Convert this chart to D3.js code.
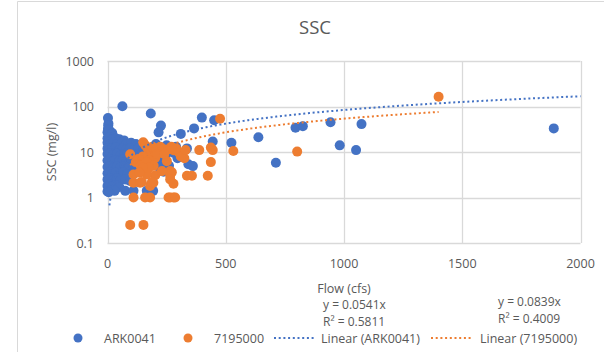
<!DOCTYPE html>
<html>
<head>
<meta charset="utf-8">
<script src="https://cdn.jsdelivr.net/npm/d3@7/dist/d3.min.js"></script>
<style>
  html, body { margin: 0; padding: 0; background: #fff; }
  svg { display: block; font-family: "Open Sans", "Noto Sans", sans-serif; }
</style>
</head>
<body>
<svg id="chart" width="604" height="352"></svg>
<script>
// Station ARK0041: [flow (cfs), SSC (mg/l)]
const ark0041 = [
  [2,56],[4,42],[3,38],[2,32],
  [0,27],[8,30],[20,26],
  [0,20],[8,21],[20,19],[35,20],[50,19],[70,18],
  [0,16],[12,15],[25,16],[40,15],[60,16],[80,15],[100,16],[120,15],[140,14],
  [0,12],[8,11],[20,12],[35,12.5],[50,11],[65,12],[80,11.5],[95,12],[110,11],[130,12],[150,11],[165,12.5],
  [0,9],[12,9.5],[25,8.8],[40,9.2],[55,8.5],[70,9],[85,9.5],[100,8.7],[120,9],[140,8.5],[160,9],
  [0,6.5],[10,6.8],[22,6.2],[35,6.6],[50,6.3],[65,6.8],[80,6.2],[100,6.5],[120,6.8],[140,6.2],
  [0,4.7],[10,4.9],[25,4.5],[40,4.8],[55,4.6],[70,4.9],[90,4.5],[110,4.7],[130,4.4],
  [0,3.4],[8,3.6],[20,3.3],[35,3.5],[50,3.2],[65,3.6],[85,3.3],[105,3.4],
  [0,2.5],[10,2.6],[25,2.4],[40,2.6],[55,2.4],[75,2.5],[95,2.3],
  [0,1.8],[8,1.9],[20,1.75],[35,1.85],[50,1.7],
  [0,1.35],[15,1.45],[30,1.4],[5,1.3],[75,1.4],[110,1.4],[166,1.4],[188,1.4],[193,1.4],
  [63,101],[183,70],[226,38],[216,27],[310,25],[366,33],[399,57],[451,50],
  [445,17],[524,16],[638,21],[712,5.8],[795,34],[826,37],[943,45],[982,14],
  [1051,11],[1074,41],[1887,33],[336,12],[342,5.4],[361,4.9],[296,7.3],[244,8.2],
  [237,3.7],[188,2],[200,12],[215,9],[250,14],[270,11],[230,6],[260,5],
  [290,13],[205,15],[185,8],[175,5],[220,4.5],[280,9.5]
];

// Station 7195000: [flow (cfs), SSC (mg/l)]
const st7195000 = [
  [1400,164],[476,54],[802,10.2],[532,10.5],[388,11],[437,12.5],[445,11],[437,6],
  [424,3],[336,3],[357,3],[325,7.3],[279,10.9],[286,10.9],[258,11.5],[237,11.5],
  [223,13],[251,6.3],[265,3.8],[265,3.1],[279,2],[258,1],[279,1],[265,1],[286,1],
  [202,7.5],[202,3.1],[180,1.8],[180,1],[159,1],[110,1],[96,0.25],[152,0.25],
  [110,2.1],[138,2.1],[194,2.1],[110,3.2],[166,3.2],[151,16.3],[96,8.9],[145,2.2],
  [188,2.2],[272,3.6],[265,2.5],[230,3.8],
  [160,14],[170,12],[185,10],[130,7],[150,8],[175,6.5],[200,10],[215,12],[190,13],
  [120,6],[140,5],[165,6],[210,9],[240,9],[300,10],[310,8],[195,5],[175,4.5],
  [150,4.5],[135,3.5],[290,12],[270,13],[330,11]
];

// Linear trendlines through the origin
const trendArk = { slope: 0.0839, from: 8, to: 2000 };
const trend7195 = { slope: 0.0541, from: 96, to: 1400 };

const xTicks = [0, 500, 1000, 1500, 2000];
const yTicks = [0.1, 1, 10, 100, 1000];
const yTickLabels = ["0.1", "1", "10", "100", "1000"];

const blue = "#4472C4", orange = "#ED7D31", grid = "#D9D9D9", text = "#595959";

const svg = d3.select("#chart");

// Chart frame
svg.append("path")
  .attr("d", "M17.5,352 V1.5 H604")
  .attr("fill", "none").attr("stroke", grid).attr("stroke-width", 1);

const x = d3.scaleLinear().domain([0, 2000]).range([107.5, 580.5]);
const y = d3.scaleLog().domain([0.1, 1000]).range([243, 61]);

// Gridlines
const g = svg.append("g");
g.selectAll("line.v").data(xTicks).join("line")
  .attr("x1", d => Math.round(x(d)) + 0.5).attr("x2", d => Math.round(x(d)) + 0.5)
  .attr("y1", y(1000)).attr("y2", y(0.1))
  .attr("stroke", grid).attr("stroke-width", 1.3);
g.selectAll("line.h").data(yTicks).join("line")
  .attr("y1", d => Math.round(y(d)) + 0.5).attr("y2", d => Math.round(y(d)) + 0.5)
  .attr("x1", x(0)).attr("x2", x(2000))
  .attr("stroke", grid).attr("stroke-width", 1.3);

// Axis labels
svg.append("g").selectAll("text").data(yTicks).join("text")
  .attr("x", 94).attr("y", d => y(d) + 4.5)
  .attr("text-anchor", "end").attr("font-size", 12.5).attr("fill", text)
  .text((d, i) => yTickLabels[i]);
svg.append("g").selectAll("text").data(xTicks).join("text")
  .attr("x", d => x(d)).attr("y", 267.5)
  .attr("text-anchor", "middle").attr("font-size", 12.5).attr("fill", text)
  .text(d => d);

// Points
const pts = svg.append("g");
pts.selectAll("circle.a").data(ark0041).join("circle")
  .attr("cx", d => x(d[0])).attr("cy", d => y(d[1])).attr("r", 5)
  .attr("fill", blue);
pts.selectAll("circle.b").data(st7195000).join("circle")
  .attr("cx", d => x(d[0])).attr("cy", d => y(d[1])).attr("r", 5)
  .attr("fill", orange);

// Trendlines (sampled so they bend correctly on the log axis)
function trendPath(t) {
  const xs = d3.range(0, 201).map(i => t.from + (t.to - t.from) * i / 200);
  return d3.line().x(v => x(v)).y(v => y(t.slope * v))(xs);
}
svg.append("path").attr("d", trendPath(trendArk))
  .attr("fill", "none").attr("stroke", blue).attr("stroke-width", 2)
  .attr("stroke-dasharray", "2 2.7");
svg.append("path").attr("d", trendPath(trend7195))
  .attr("fill", "none").attr("stroke", orange).attr("stroke-width", 2)
  .attr("stroke-dasharray", "2 2.7");

// Titles
svg.append("text").attr("x", 315).attr("y", 34).attr("text-anchor", "middle")
  .attr("font-size", 18.5).attr("fill", text).text("SSC");
svg.append("text").attr("transform", "translate(56,152) rotate(-90)")
  .attr("text-anchor", "middle").attr("font-size", 12.5).attr("fill", text)
  .text("SSC (mg/l)");
svg.append("text").attr("x", 344).attr("y", 293).attr("text-anchor", "middle")
  .attr("font-size", 12.5).attr("fill", text).text("Flow (cfs)");

// Trendline equations
const eq = svg.append("g").attr("font-size", 12).attr("fill", text);
eq.append("text").attr("x", 323).attr("y", 309).text("y = " + trend7195.slope + "x");
eq.append("text").attr("x", 323).attr("y", 326).text("R² = 0.5811");
eq.append("text").attr("x", 498).attr("y", 306).text("y = " + trendArk.slope + "x");
eq.append("text").attr("x", 498).attr("y", 323).text("R² = 0.4009");

// Legend
const lg = svg.append("g").attr("font-size", 12.5).attr("fill", text);
const ly = 338;
lg.append("circle").attr("cx", 78).attr("cy", ly).attr("r", 4.5).attr("fill", blue);
lg.append("text").attr("x", 104).attr("y", ly + 4.5).text("ARK0041");
lg.append("circle").attr("cx", 188).attr("cy", ly).attr("r", 4.5).attr("fill", orange);
lg.append("text").attr("x", 214).attr("y", ly + 4.5).text("7195000");
lg.append("line").attr("x1", 274).attr("x2", 316).attr("y1", ly).attr("y2", ly)
  .attr("stroke", blue).attr("stroke-width", 2).attr("stroke-dasharray", "2 2.7");
lg.append("text").attr("x", 321).attr("y", ly + 4.5).text("Linear (ARK0041)");
lg.append("line").attr("x1", 431).attr("x2", 473).attr("y1", ly).attr("y2", ly)
  .attr("stroke", orange).attr("stroke-width", 2).attr("stroke-dasharray", "2 2.7");
lg.append("text").attr("x", 480).attr("y", ly + 4.5).text("Linear (7195000)");
</script>
</body>
</html>
